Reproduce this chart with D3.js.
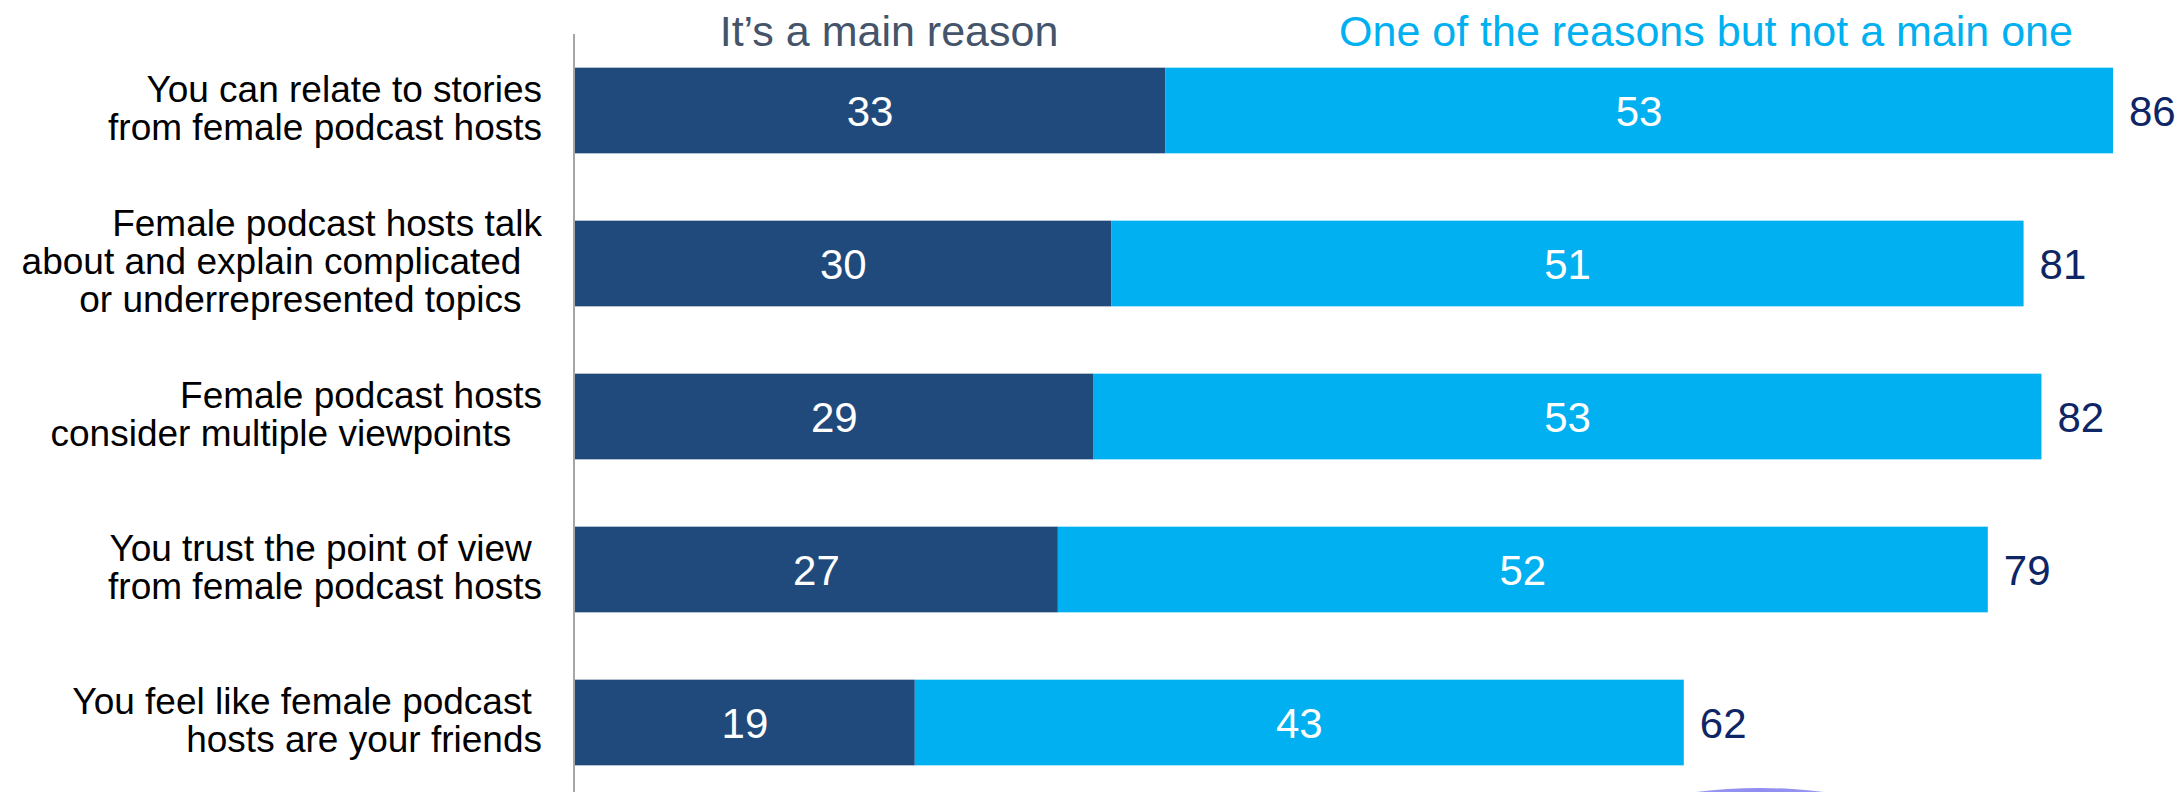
<!DOCTYPE html>
<html>
<head>
<meta charset="utf-8">
<script src="https://cdn.jsdelivr.net/npm/d3@7"></script>
<style>
  html, body { margin: 0; padding: 0; background: #fff; }
  svg { display: block; font-family: "Liberation Sans", Arial, sans-serif; }
</style>
</head>
<body>
<div id="chart-container"></div>
<script>
// data
const categories = [
  ["You can relate to stories", "from female podcast hosts"],
  ["Female podcast hosts talk", "about and explain complicated  ", "or underrepresented topics  "],
  ["Female podcast hosts", "consider multiple viewpoints   "],
  ["You trust the point of view ", "from female podcast hosts"],
  ["You feel like female podcast ", "hosts are your friends"]
];
const mainReason = [33, 30, 29, 27, 19];
const otherReason = [53, 51, 53, 52, 43];
const totals = [86, 81, 82, 79, 62];
const seriesNames = ["It\u2019s a main reason", "One of the reasons but not a main one"];

const container = document.getElementById("chart-container");

function barChart() {
    const width = 2182;
    const height = 792;
    const marginLeft = 575;
    const plotRight = 2113;

    const darkBlue = "#204a7c";
    const lightBlue = "#00b0f0";

    const idx = d3.range(categories.length);

    const x = d3.scaleLinear()
        .domain([0, d3.max(totals)])
        .range([marginLeft, plotRight]);

    const y = d3.scaleBand()
        .domain(idx)
        .range([34, 799])
        .paddingInner(0.44)
        .paddingOuter(0.22);

    const svg = d3.create("svg")
        .attr("width", width)
        .attr("height", height);

    // decorative shapes bottom right
    const defs = svg.append("defs");
    const grad = defs.append("linearGradient")
        .attr("id", "arc")
        .attr("x1", "0%").attr("x2", "100%");
    grad.append("stop").attr("offset", "0%").attr("stop-color", "#c4bff7");
    grad.append("stop").attr("offset", "50%").attr("stop-color", "#8f8df0");
    grad.append("stop").attr("offset", "100%").attr("stop-color", "#c4bff7");
    svg.append("ellipse")
        .attr("cx", 1760).attr("cy", 1000)
        .attr("rx", 330).attr("ry", 212)
        .attr("fill", "url(#arc)");
    svg.append("ellipse")
        .attr("cx", 2330).attr("cy", 900)
        .attr("rx", 170).attr("ry", 150)
        .attr("fill", "#5b8de4");

    // axis line
    svg.append("line")
        .attr("x1", marginLeft - 1).attr("x2", marginLeft - 1)
        .attr("y1", 34).attr("y2", height)
        .attr("stroke", "#a6a6a6")
        .attr("stroke-width", 2);

    // stacked bars
    const rows = svg.append("g")
        .selectAll("g")
        .data(idx)
        .join("g");

    rows.append("rect")
        .attr("x", x(0))
        .attr("y", i => y(i))
        .attr("width", i => x(mainReason[i]) - x(0))
        .attr("height", y.bandwidth())
        .attr("fill", darkBlue);

    rows.append("rect")
        .attr("x", i => x(mainReason[i]))
        .attr("y", i => y(i))
        .attr("width", i => x(mainReason[i] + otherReason[i]) - x(mainReason[i]))
        .attr("height", y.bandwidth())
        .attr("fill", lightBlue);

    // values inside
    rows.append("text")
        .attr("x", i => (x(0) + x(mainReason[i])) / 2)
        .attr("y", i => y(i) + y.bandwidth() / 2)
        .attr("dy", "0.36em")
        .attr("text-anchor", "middle")
        .attr("font-size", 42)
        .attr("fill", "#fff")
        .text(i => mainReason[i]);

    rows.append("text")
        .attr("x", i => (x(mainReason[i]) + x(mainReason[i] + otherReason[i])) / 2)
        .attr("y", i => y(i) + y.bandwidth() / 2)
        .attr("dy", "0.36em")
        .attr("text-anchor", "middle")
        .attr("font-size", 42)
        .attr("fill", "#fff")
        .text(i => otherReason[i]);

    // totals
    rows.append("text")
        .attr("x", i => x(totals[i]) + 16)
        .attr("y", i => y(i) + y.bandwidth() / 2)
        .attr("dy", "0.36em")
        .attr("font-size", 42)
        .attr("fill", "#0e2566")
        .text(i => totals[i]);

    // category labels
    const lineH = 38;
    rows.append("text")
        .attr("text-anchor", "end")
        .attr("font-size", 37)
        .attr("fill", "#000")
        .style("white-space", "pre")
        .each(function(i) {
            const lines = categories[i];
            const cy = y(i) + y.bandwidth() / 2 - 2;
            d3.select(this).selectAll("tspan")
                .data(lines)
                .join("tspan")
                .attr("x", marginLeft - 33)
                .attr("y", (d, k) => cy + (k - (lines.length - 1) / 2) * lineH)
                .attr("dy", "0.35em")
                .text(d => d);
        });

    // legend headers
    svg.append("text")
        .attr("x", 889)
        .attr("y", 46)
        .attr("text-anchor", "middle")
        .attr("font-size", 43)
        .attr("fill", "#44546a")
        .text(seriesNames[0]);

    svg.append("text")
        .attr("x", 1706)
        .attr("y", 46)
        .attr("text-anchor", "middle")
        .attr("font-size", 43)
        .attr("fill", lightBlue)
        .text(seriesNames[1]);

    return svg.node();
}

container.appendChild(barChart());
</script>
</body>
</html>
